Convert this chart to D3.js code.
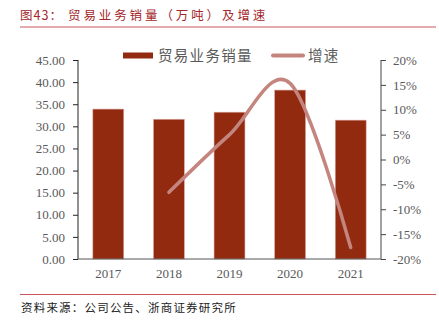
<!DOCTYPE html>
<html>
<head>
<meta charset="utf-8">
<script src="https://cdn.jsdelivr.net/npm/d3@7"></script>
<style>
  html, body { margin: 0; padding: 0; background: #fff; }
  svg { display: block; }
</style>
</head>
<body>
<svg id="chart" width="439" height="326"></svg>
<script>
// Trade-business sales volume (10k tonnes) and year-on-year growth
const years = ["2017", "2018", "2019", "2020", "2021"];
const volume = [33.9, 31.6, 33.2, 38.2, 31.4];
const growthYears = ["2018", "2019", "2020", "2021"];
const growth = [-6.6, 5.0, 15.3, -17.7];
const leftTicks = [0, 5, 10, 15, 20, 25, 30, 35, 40, 45];
const rightTicks = [-20, -15, -10, -5, 0, 5, 10, 15, 20];

const svg = d3.select("#chart");
const serif = "'Liberation Serif', 'DejaVu Serif', serif";
const cjk = "'Noto Sans CJK SC', sans-serif";
const barColor = "#922a10";
const lineColor = "#c4857f";
const textGray = "#595959";

const plot = { left: 78, right: 381, top: 60, bottom: 259 };

const x = d3.scaleBand().domain(years).range([plot.left, plot.right]).paddingInner(0.49).paddingOuter(0.245);
const yL = d3.scaleLinear().domain([0, 45]).range([plot.bottom, plot.top]);
const yR = d3.scaleLinear().domain([-20, 20]).range([plot.bottom, plot.top]);

// header
const title = svg.append("text").attr("x", 20).attr("y", 20)
  .attr("font-family", cjk).attr("font-size", 12.5).attr("fill", "#a3262a");
title.append("tspan").attr("letter-spacing", 1).text("图43：");
title.append("tspan").attr("x", 68).attr("letter-spacing", 2.9).text("贸易业务销量（万吨）及增速");
svg.append("line").attr("x1", 20).attr("x2", 436).attr("y1", 27).attr("y2", 27)
  .attr("stroke", "#c9575a").attr("stroke-width", 1);

// bars
svg.append("g").selectAll("rect").data(years).join("rect")
  .attr("x", d => x(d))
  .attr("width", x.bandwidth())
  .attr("y", (d, i) => yL(volume[i]))
  .attr("height", (d, i) => yL(0) - yL(volume[i]))
  .attr("fill", barColor)
  .attr("stroke", "#d9a9a0").attr("stroke-width", 0.6);

// growth line, smoothed
const line = d3.line()
  .x(d => x(d.year) + x.bandwidth() / 2)
  .y(d => yR(d.value))
  .curve(d3.curveCardinal.tension(0));
svg.append("path")
  .datum(growthYears.map((year, i) => ({ year, value: growth[i] })))
  .attr("d", line)
  .attr("fill", "none").attr("stroke", lineColor)
  .attr("stroke-width", 3.5).attr("stroke-linecap", "round");

// axes
const leftAxis = d3.axisLeft(yL).tickValues(leftTicks).tickFormat(d3.format(".2f")).tickSize(5).tickPadding(8);
const gL = svg.append("g").attr("transform", `translate(${plot.left},0)`).call(leftAxis);
gL.select(".domain").attr("stroke", "#222").attr("d", `M0,${plot.top}V${plot.bottom}`);
gL.selectAll(".tick line").attr("stroke", "#222");
gL.selectAll(".tick text").attr("font-family", serif).attr("font-size", 13).attr("fill", textGray);

const rightAxis = d3.axisRight(yR).tickValues(rightTicks).tickFormat(d => d + "%").tickSize(5).tickPadding(7);
const gR = svg.append("g").attr("transform", `translate(${plot.right},0)`).call(rightAxis);
gR.select(".domain").attr("stroke", "#444").attr("d", `M0,${plot.top}V${plot.bottom}`);
gR.selectAll(".tick line").attr("stroke", "#444");
gR.selectAll(".tick text").attr("font-family", serif).attr("font-size", 13).attr("fill", textGray);

const bottomAxis = d3.axisBottom(x).tickSize(0).tickPadding(10);
const gB = svg.append("g").attr("transform", `translate(0,${plot.bottom})`).call(bottomAxis);
gB.select(".domain").attr("stroke", "#555").attr("d", `M${plot.left},0H${plot.right}`);
gB.selectAll(".tick text").attr("font-family", serif).attr("font-size", 13).attr("fill", textGray);

// legend
const lg = svg.append("g");
lg.append("rect").attr("x", 123).attr("y", 52.5).attr("width", 30).attr("height", 6).attr("fill", barColor);
lg.append("text").attr("x", 158).attr("y", 61).attr("font-family", cjk).attr("font-size", 14.5)
  .attr("fill", textGray).attr("letter-spacing", 1.3).text("贸易业务销量");
lg.append("line").attr("x1", 273).attr("x2", 303).attr("y1", 55.5).attr("y2", 55.5)
  .attr("stroke", lineColor).attr("stroke-width", 4).attr("stroke-linecap", "round");
lg.append("text").attr("x", 308).attr("y", 61).attr("font-family", cjk).attr("font-size", 14.5)
  .attr("fill", textGray).attr("letter-spacing", 1.3).text("增速");

// footer
svg.append("line").attr("x1", 20).attr("x2", 436).attr("y1", 294.5).attr("y2", 294.5)
  .attr("stroke", "#c9575a").attr("stroke-width", 1);
svg.append("text").attr("x", 21).attr("y", 312)
  .attr("font-family", cjk).attr("font-size", 11.5).attr("fill", "#222")
  .attr("letter-spacing", 1.2)
  .text("资料来源：公司公告、浙商证券研究所");
</script>
</body>
</html>
